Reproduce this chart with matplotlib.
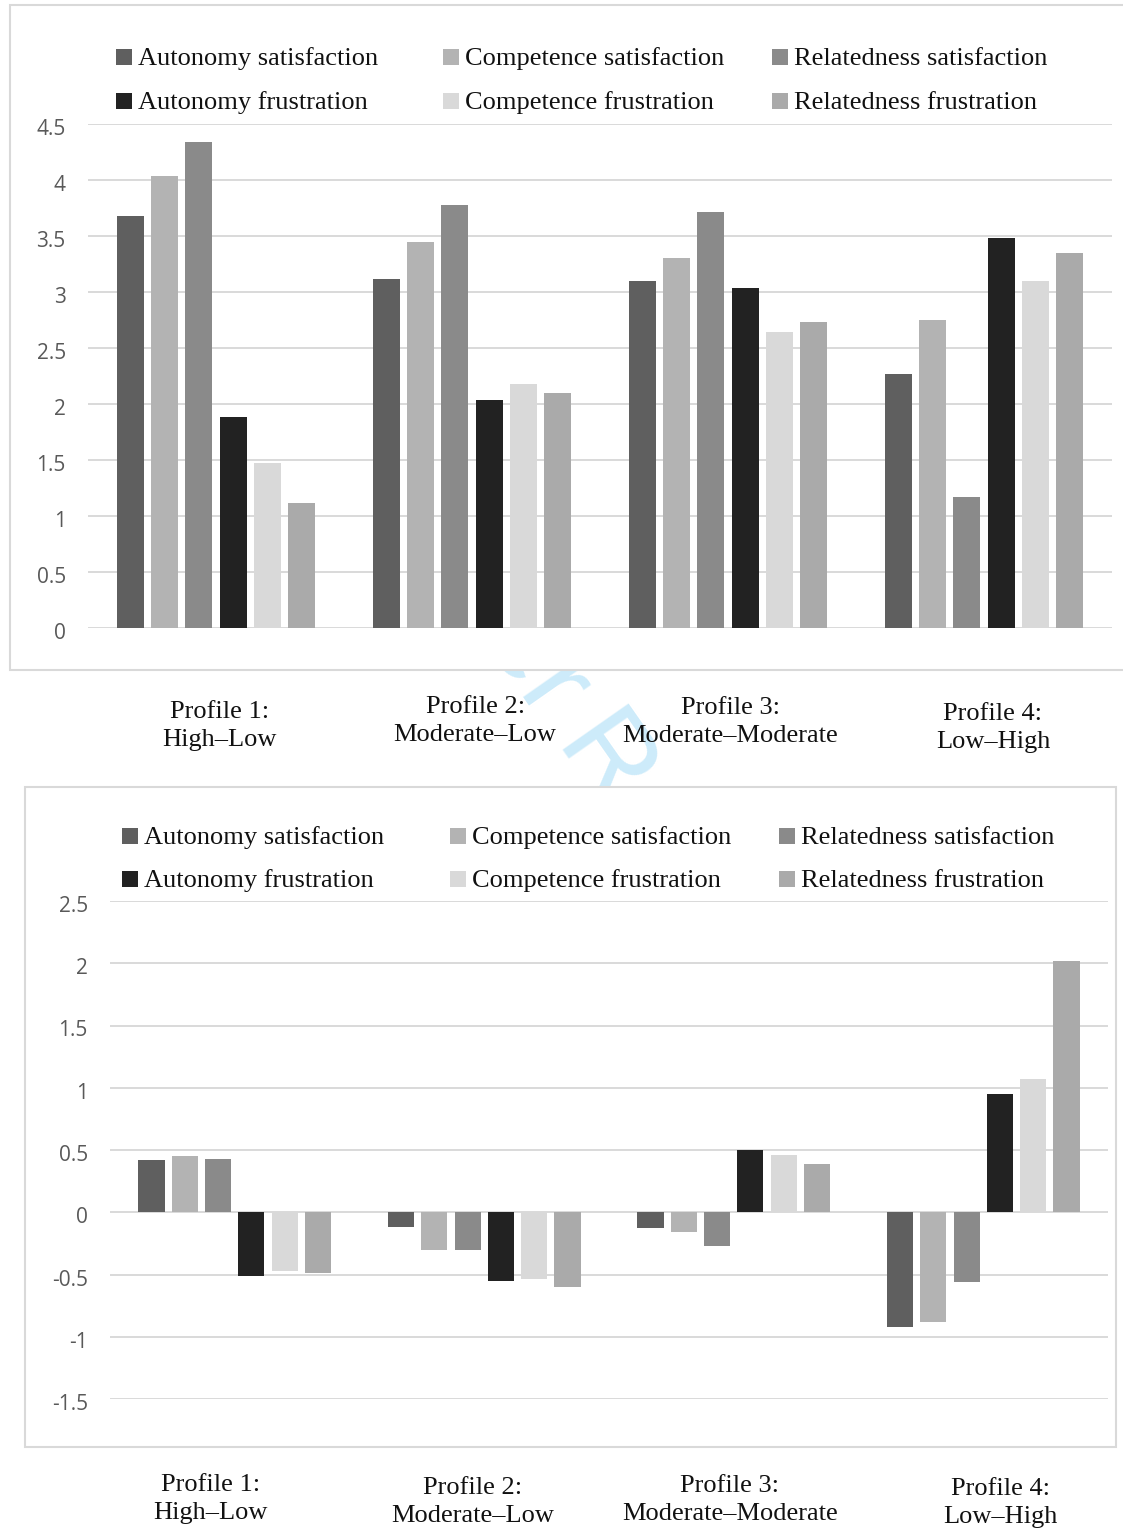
import matplotlib
matplotlib.use("Agg")
import matplotlib.pyplot as plt
from matplotlib.patches import Rectangle
from matplotlib.ticker import FuncFormatter, MultipleLocator
from matplotlib.transforms import blended_transform_factory, ScaledTranslation
import numpy as np

# ---- data -------------------------------------------------------------
profiles = ["Profile 1:\nHigh\u2013Low", "Profile 2:\nModerate\u2013Low",
            "Profile 3:\nModerate\u2013Moderate", "Profile 4:\nLow\u2013High"]
series = ["Autonomy satisfaction", "Competence satisfaction", "Relatedness satisfaction",
          "Autonomy frustration", "Competence frustration", "Relatedness frustration"]

# raw mean scores per profile (top panel)
raw_aut_sat = [3.68, 3.12, 3.10, 2.27]
raw_com_sat = [4.04, 3.45, 3.30, 2.75]
raw_rel_sat = [4.34, 3.78, 3.71, 1.17]
raw_aut_fru = [1.88, 2.04, 3.04, 3.48]
raw_com_fru = [1.47, 2.18, 2.64, 3.10]
raw_rel_fru = [1.12, 2.10, 2.73, 3.35]

# standardized scores per profile (bottom panel)
z_aut_sat = [0.42, -0.12, -0.13, -0.92]
z_com_sat = [0.45, -0.30, -0.16, -0.88]
z_rel_sat = [0.43, -0.30, -0.27, -0.56]
z_aut_fru = [-0.51, -0.55, 0.50, 0.95]
z_com_fru = [-0.47, -0.54, 0.46, 1.07]
z_rel_fru = [-0.49, -0.60, 0.39, 2.02]

colors = ["#5f5f5f", "#b3b3b3", "#8a8a8a", "#222222", "#d9d9d9", "#aaaaaa"]

# ---- figure helpers ---------------------------------------------------
W, H = 1123, 1530
fig = plt.figure(figsize=(W / 100, H / 100), dpi=100)
fig.patch.set_facecolor("white")


def fx(x):
    return x / W


def fy(y):
    return 1 - y / H


SERIF = ["Liberation Serif", "DejaVu Serif"]
SANS = ["Open Sans", "DejaVu Sans"]
GRID = "#d9d9d9"

# faint diagonal watermark, mostly hidden behind the chart boxes
wm_kw = dict(rotation=-55, rotation_mode="anchor", va="baseline", fontsize=84,
             color="#cdebfa", family=["Liberation Sans", "DejaVu Sans"], zorder=-3)
fig.text(fx(540), fy(722), "For Peer", ha="right", **wm_kw)
fig.text(fx(552), fy(748), "Review", ha="left", **wm_kw)


def fmt(v, _pos):
    return f"{v:g}"


def panel(frame, axrect, ylim, step, data, legend_cols, legend_rows, label_pos):
    # white chart box with light border
    x0, y0, x1, y1 = frame
    fig.add_artist(Rectangle((fx(x0), fy(y1)), (x1 - x0) / W, (y1 - y0) / H,
                             transform=fig.transFigure, facecolor="white",
                             edgecolor=GRID, linewidth=1.5, zorder=-1))
    ax0, ay0, ax1, ay1 = axrect
    ax = fig.add_axes([fx(ax0), fy(ay1), (ax1 - ax0) / W, (ay1 - ay0) / H])
    ax.set_facecolor("none")
    n = len(profiles)
    x = np.arange(n)
    slot = 0.8 / 6
    width = 0.105
    for j, vals in enumerate(data):
        ax.bar(x + (j - 2.5) * slot, vals, width=width, color=colors[j],
               zorder=3, linewidth=0)
    ax.set_xlim(-0.5, n - 0.5)
    ax.set_ylim(*ylim)
    ax.yaxis.set_major_locator(MultipleLocator(step))
    ax.yaxis.set_major_formatter(FuncFormatter(fmt))
    ax.grid(axis="y", color=GRID, linewidth=1.4, zorder=0)
    ax.set_axisbelow(True)
    for sp in ax.spines.values():
        sp.set_visible(False)
    ax.tick_params(axis="y", length=0, pad=16, labelsize=15, labelcolor="#595959")
    shift = ScaledTranslation(0, -3 / 100, fig.dpi_scale_trans)
    for t in ax.get_yticklabels():
        t.set_family(SANS)
        t.set_transform(t.get_transform() + shift)
    ax.set_xticks([])

    # legend: three columns, two rows
    order = [0, 3, 1, 4, 2, 5]
    k = 0
    for cx in legend_cols:
        for ry in legend_rows:
            idx = order[k]
            k += 1
            fig.add_artist(Rectangle((fx(cx), fy(ry + 8)), 16 / W, 16 / H,
                                     transform=fig.transFigure,
                                     facecolor=colors[idx], edgecolor="none"))
            fig.text(fx(cx + 22), fy(ry + 2), series[idx], ha="left", va="center",
                     fontsize=19, family=SERIF, color="#111111")

    # category labels below the box
    tr = blended_transform_factory(ax.transData, fig.transFigure)
    for i, (lab, (dx, ly)) in enumerate(zip(profiles, label_pos)):
        ax.text(i + dx, fy(ly), lab, transform=tr, ha="center", va="center",
                fontsize=19, family=SERIF, linespacing=1.4, color="#111111",
                clip_on=False)
    return ax


panel(frame=(10, 5, 1140, 670), axrect=(88, 124, 1112, 628),
      ylim=(0, 4.5), step=0.5,
      data=[raw_aut_sat, raw_com_sat, raw_rel_sat, raw_aut_fru, raw_com_fru, raw_rel_fru],
      legend_cols=(116, 443, 772), legend_rows=(57, 101),
      label_pos=[(0.012, 726), (0.012, 721), (0.008, 722), (0.035, 728)])

panel(frame=(25, 787, 1116, 1447), axrect=(110, 901, 1108, 1399),
      ylim=(-1.5, 2.5), step=0.5,
      data=[z_aut_sat, z_com_sat, z_rel_sat, z_aut_fru, z_com_fru, z_rel_fru],
      legend_cols=(122, 450, 779), legend_rows=(836, 879),
      label_pos=[(-0.096, 1499), (-0.048, 1502), (-0.016, 1500), (0.068, 1503)])

fig.savefig("out.png", dpi=100, facecolor="white")
